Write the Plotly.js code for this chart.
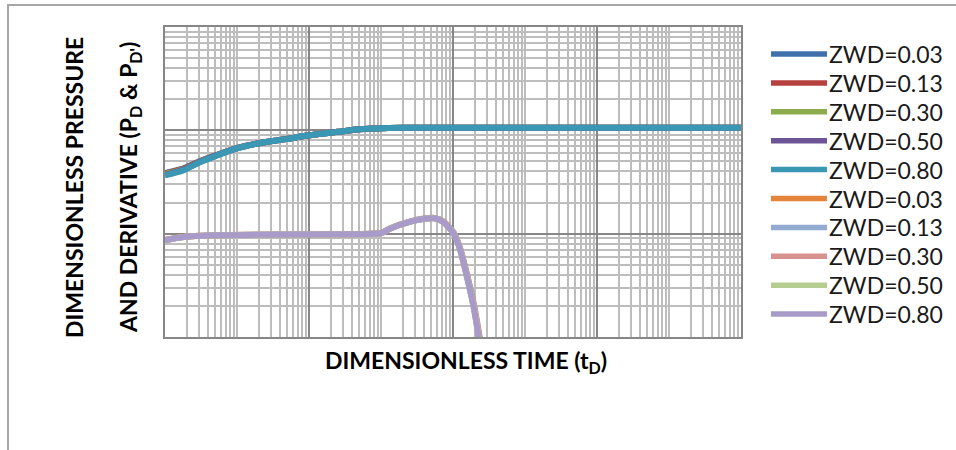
<!DOCTYPE html>
<html><head><meta charset="utf-8">
<script src="https://cdn.plot.ly/plotly-3.0.1.min.js"></script>
<style>
html,body{margin:0;padding:0;background:#fff;overflow:hidden}
#chart{width:956px;height:450px;position:absolute;left:0;top:0}
#frame{position:absolute;left:7px;top:4px;width:1000px;height:1000px;border-left:2px solid #a6a6a6;border-top:2px solid #a6a6a6;pointer-events:none}
</style></head><body>
<div id="chart"></div><div id="frame"></div>
<script>
// ---- data ----
const seriesNames = ['ZWD=0.03','ZWD=0.13','ZWD=0.30','ZWD=0.50','ZWD=0.80',
                     'ZWD=0.03','ZWD=0.13','ZWD=0.30','ZWD=0.50','ZWD=0.80'];
const seriesColors = ['#4070ab','#b5403d','#8cad4b','#6c5496','#3b98b4',
                      '#e5843b','#93aad1','#d7918f','#b6cd92','#a99bc9'];

// dimensionless time for pressure curves
const timePressure = [0.01, 0.018, 0.031, 0.053, 0.1, 0.25, 0.5, 1, 2.5, 5, 10, 20, 100, 1000, 10000, 100000, 1000000];
const pressure003 = [3.85, 4.28, 5.06, 5.80, 6.76, 7.72, 8.28, 8.95, 9.67, 10.23, 10.50, 10.57, 10.57, 10.57, 10.57, 10.57, 10.57];
const pressure013 = [3.81, 4.24, 5.03, 5.78, 6.74, 7.72, 8.28, 8.95, 9.67, 10.23, 10.50, 10.57, 10.57, 10.57, 10.57, 10.57, 10.57];
const pressure030 = [3.77, 4.20, 5.00, 5.76, 6.73, 7.71, 8.27, 8.95, 9.67, 10.23, 10.50, 10.57, 10.57, 10.57, 10.57, 10.57, 10.57];
const pressure050 = [3.72, 4.15, 4.96, 5.75, 6.71, 7.71, 8.27, 8.95, 9.67, 10.23, 10.50, 10.57, 10.57, 10.57, 10.57, 10.57, 10.57];
const pressure080 = [3.67, 4.10, 4.93, 5.73, 6.70, 7.71, 8.27, 8.95, 9.67, 10.23, 10.50, 10.57, 10.57, 10.57, 10.57, 10.57, 10.57];

// dimensionless time for derivative curves
const timeDerivative = [0.01, 0.018, 0.05, 0.2, 1, 7, 10, 13.5, 25, 40, 55, 74, 102, 126, 156, 193, 227, 260, 300];
const derivative003 = [0.870, 0.932, 0.965, 0.976, 0.985, 0.996, 1.015, 1.13, 1.31, 1.40, 1.42, 1.31, 1.03, 0.72, 0.41, 0.215, 0.115, 0.064, 0.035];
const derivative013 = [0.867, 0.930, 0.964, 0.976, 0.985, 0.996, 1.013, 1.13, 1.31, 1.40, 1.42, 1.30, 1.02, 0.71, 0.40, 0.208, 0.110, 0.061, 0.033];
const derivative030 = [0.865, 0.929, 0.964, 0.975, 0.984, 0.995, 1.012, 1.12, 1.30, 1.39, 1.41, 1.30, 1.01, 0.70, 0.39, 0.202, 0.106, 0.058, 0.032];
const derivative050 = [0.863, 0.928, 0.963, 0.975, 0.984, 0.995, 1.011, 1.12, 1.30, 1.39, 1.41, 1.29, 1.005, 0.695, 0.385, 0.198, 0.103, 0.056, 0.031];
const derivative080 = [0.861, 0.927, 0.963, 0.975, 0.984, 0.995, 1.010, 1.12, 1.30, 1.39, 1.41, 1.29, 1.00, 0.689, 0.38, 0.195, 0.100, 0.055, 0.030];

const pressureSeries = [pressure003, pressure013, pressure030, pressure050, pressure080];
const derivativeSeries = [derivative003, derivative013, derivative030, derivative050, derivative080];

// ---- traces ----
const traces = [];
pressureSeries.forEach((ys, i) => traces.push({
  x: timePressure, y: ys, name: seriesNames[i], type: 'scatter', mode: 'lines',
  line: {color: seriesColors[i], width: 6, shape: 'spline', smoothing: 0.7}
}));
derivativeSeries.forEach((ys, i) => traces.push({
  x: timeDerivative, y: ys, name: seriesNames[i + 5], type: 'scatter', mode: 'lines',
  line: {color: seriesColors[i + 5], width: 6, shape: 'spline', smoothing: 0.7}
}));

// ---- layout ----
const M = {l: 165, r: 215, t: 27, b: 113};
const W = 956, H = 450;
const pw = W - M.l - M.r, ph = H - M.t - M.b;
const px2paperX = p => (p - M.l) / pw;
const py2paperY = p => (H - M.b - p) / ph;

const axisCommon = {
  type: 'log', showgrid: true, gridcolor: '#878787', gridwidth: 2,
  showline: true, mirror: true, linecolor: '#878787', linewidth: 2,
  ticks: '', showticklabels: false, zeroline: false, fixedrange: true,
  minor: {dtick: 'D1', showgrid: true, gridcolor: '#bdbdbd', gridwidth: 2, ticks: ''}
};

const titleFont = {family: 'Lato, "Open Sans", sans-serif', size: 23, color: '#000'};
const annotations = [
  {text: '<b>DIMENSIONLESS PRESSURE</b>', textangle: -90, xref: 'paper', yref: 'paper',
   x: px2paperX(74), y: py2paperY(188), xanchor: 'center', yanchor: 'middle', showarrow: false, font: titleFont},
  {text: '<b>AND DERIVATIVE (P<sub>D</sub> & P<sub>D\'</sub>)</b>', textangle: -90, xref: 'paper', yref: 'paper',
   x: px2paperX(130), y: py2paperY(188), xanchor: 'center', yanchor: 'middle', showarrow: false, font: titleFont},
  {text: '<b>DIMENSIONLESS TIME (t<sub>D</sub>)</b>', xref: 'paper', yref: 'paper',
   x: px2paperX(466), y: py2paperY(361), xanchor: 'center', yanchor: 'middle', showarrow: false, font: titleFont}
];
const shapes = [];
seriesNames.forEach((nm, i) => {
  const yc = 54 + i * 28.9;
  shapes.push({type: 'line', xref: 'paper', yref: 'paper',
    x0: px2paperX(771), x1: px2paperX(827), y0: py2paperY(yc), y1: py2paperY(yc),
    line: {color: seriesColors[i], width: 5.5}, layer: 'above'});
  annotations.push({text: nm, xref: 'paper', yref: 'paper', x: px2paperX(827), y: py2paperY(yc),
    xanchor: 'left', yanchor: 'middle', showarrow: false,
    font: {family: 'Lato, "Open Sans", sans-serif', size: 23, color: '#1a1a1a'}});
});

const layout = {
  width: W, height: H, autosize: false, margin: M,
  paper_bgcolor: '#fff', plot_bgcolor: '#fff', showlegend: false,
  xaxis: Object.assign({}, axisCommon, {range: [-2, 6], dtick: 2, tick0: 0}),
  yaxis: Object.assign({}, axisCommon, {range: [-1, 2], dtick: 1, tick0: 0}),
  annotations: annotations, shapes: shapes
};
Plotly.newPlot('chart', traces, layout, {staticPlot: true, displayModeBar: false});
</script></body></html>
